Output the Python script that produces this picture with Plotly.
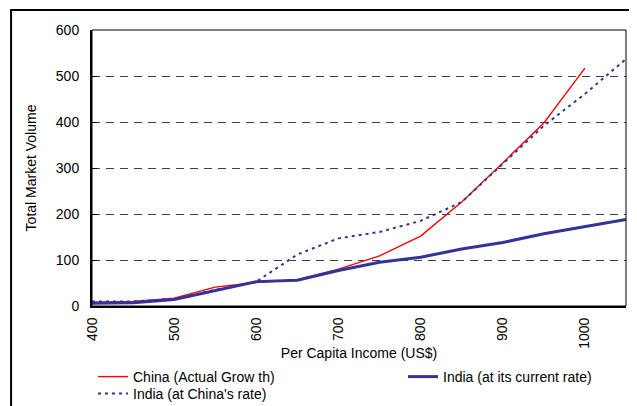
import plotly.graph_objects as go

income = [400, 450, 500, 550, 600, 650, 700, 750, 800, 850, 900, 950, 1000, 1050]
china_actual = [8, 10, 17, 41, 51, 57, 80, 109, 152, 226, 311, 398, 517, None]
india_current = [6, 7, 14, 33, 53, 56, 77, 95, 106, 124, 138, 157, 172, 188]
india_china_rate = [10, 10, 15, 35, 53, 112, 147, 161, 185, 226, 309, 392, 461, 537]
x_ticks = [400, 500, 600, 700, 800, 900, 1000]
y_ticks = [0, 100, 200, 300, 400, 500, 600]

# page body has an 8px margin, so the figure is laid out 8px up/left of screen coords
OFF = 8
W, H = 637 - OFF, 406 - OFF
L, T = 92 - OFF, 30 - OFF
R = 637 - 626.5
B = 406 - 306
pw, ph = W - L - R, H - T - B

font = "Liberation Sans, Arial, sans-serif"

fig = go.Figure()
fig.add_trace(go.Scatter(x=income, y=china_actual, mode="lines", name="China (Actual Grow th)",
                         line=dict(color="#FF0000", width=1.4), legend="legend"))
fig.add_trace(go.Scatter(x=income, y=india_current, mode="lines", name="India (at its current rate)",
                         line=dict(color="#333399", width=3), legend="legend2"))
fig.add_trace(go.Scatter(x=income, y=india_china_rate, mode="lines", name="India (at China's rate)",
                         line=dict(color="#333399", width=2, dash="3px,4px"), legend="legend3"))

def leg(xpx, ypx):
    return dict(orientation="h", xref="container", yref="container",
                x=xpx / W, y=1 - ypx / H, xanchor="left", yanchor="top",
                font=dict(family=font, size=14, color="black"), bgcolor="rgba(0,0,0,0)",
                borderwidth=0, itemwidth=30)

fig.update_layout(
    width=W, height=H,
    margin=dict(l=L, r=R, t=T, b=B, pad=0, autoexpand=False),
    paper_bgcolor="white", plot_bgcolor="white",
    font=dict(family=font, size=14, color="black"),
    showlegend=True,
    legend=leg(85, 353),
    legend2=leg(395, 353),
    legend3=leg(85, 370),
    xaxis=dict(range=[400, 1050], tickvals=x_ticks, ticktext=[str(v) for v in x_ticks],
               tickangle=-90, showgrid=False, zeroline=False, automargin=False,
               showline=True, linecolor="black", linewidth=2, ticks="", ticklabelstandoff=4,
               tickfont=dict(size=14),
               title=dict(text="Per Capita Income (US$)", font=dict(size=14), standoff=4)),
    yaxis=dict(range=[0, 600], tickvals=y_ticks, showgrid=True, gridcolor="#404040", gridwidth=1,
               griddash="8px,6px", zeroline=False, automargin=False,
               showline=True, linecolor="black", linewidth=2,
               ticks="inside", ticklen=5, tickcolor="black", tickwidth=1, ticklabelstandoff=8,
               tickfont=dict(size=14),
               title=dict(text="Total Market Volume", font=dict(size=14), standoff=16)),
)

# plot-area border (top/right thin)
fig.add_shape(type="rect", xref="paper", yref="paper", x0=0, x1=1, y0=0, y1=1,
              line=dict(color="black", width=1), layer="above")
# outer chart frame (left/top edges visible; right/bottom run off the page)
fx0, fy0 = 11 - OFF, 10 - OFF
fig.add_shape(type="rect", xref="paper", yref="paper",
              x0=(fx0 - L) / pw, x1=(W + 10 - L) / pw,
              y0=(H - B - (H + 10)) / ph, y1=(H - B - fy0) / ph,
              line=dict(color="black", width=2), layer="above")

fig.write_html("out.html")
